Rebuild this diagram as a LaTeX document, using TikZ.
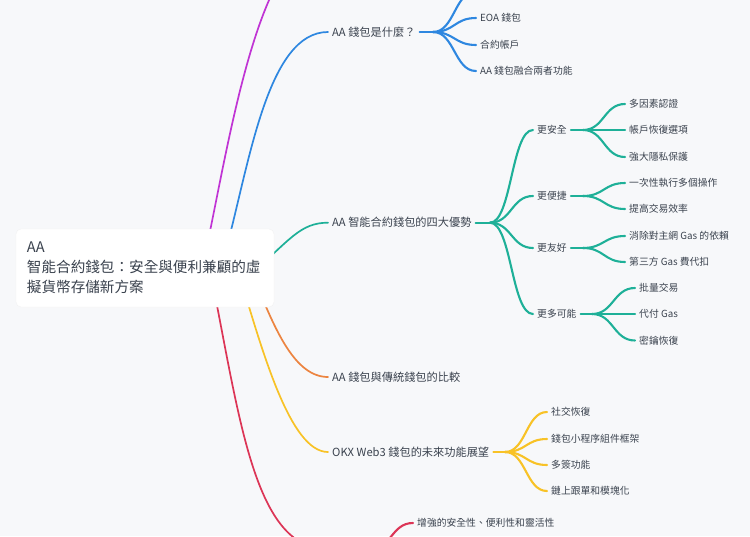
\documentclass[tikz,border=0pt]{standalone}
\usepackage{fontspec}
\setmainfont{Noto Sans CJK TC}
\definecolor{bgcol}{RGB}{247,248,250}
\definecolor{txtcol}{RGB}{58,66,78}
\definecolor{mmpurple}{RGB}{192,52,212}
\definecolor{mmblue}{RGB}{46,135,224}
\definecolor{mmteal}{RGB}{30,176,152}
\definecolor{mmorange}{RGB}{236,132,64}
\definecolor{mmyellow}{RGB}{248,194,38}
\definecolor{mmred}{RGB}{220,53,86}
\begin{document}
\begin{tikzpicture}[x=1pt, y=-1pt,
    line cap=round,
    root/.style={rectangle, rounded corners=5pt, fill=white, draw=black!5,
      text width=236pt, inner xsep=11pt, minimum height=78pt, align=left,
      font=\fontsize{14.6}{20}\selectfont, text=txtcol},
    lone/.style={anchor=west, inner xsep=4pt, inner ysep=2pt,
      font=\fontsize{11.2}{13}\selectfont, text=txtcol},
    ltwo/.style={anchor=west, inner xsep=4pt, inner ysep=2pt,
      font=\fontsize{9.8}{12}\selectfont, text=txtcol},
    trunk/.style={line width=1.7pt},
    twig/.style={line width=2.1pt}]
    % Canvas
    \useasboundingbox (0,0) rectangle (750,536);
    \fill[bgcol] (0,0) rectangle (750,536);
    \clip (0,0) rectangle (750,536);
    % First level topics
    \node[lone] (whatis) at (328,32) {AA 錢包是什麼？};
    \node[lone] (merits) at (328,222.7) {AA 智能合約錢包的四大優勢};
    \node[lone] (compare) at (328,377) {AA 錢包與傳統錢包的比較};
    \node[lone] (future) at (328,452) {OKX Web3 錢包的未來功能展望};
    % Fan points (branches split here)
    \coordinate (fwhat) at (433,32);
    \coordinate (fmerit) at (490,222.7);
    \coordinate (fsafe) at (583,130);
    \coordinate (fquick) at (583,196);
    \coordinate (ffriend) at (583,248);
    \coordinate (fmore) at (592,314);
    \coordinate (ffuture) at (505,452);
    \coordinate (fend) at (370,549);
    % Branch roots hidden behind the central box
    \coordinate (spurple) at (205,255);
    \coordinate (sblue) at (226,250);
    \coordinate (steal) at (250,275);
    \coordinate (sorange) at (255,280);
    \coordinate (syellow) at (238,270);
    \coordinate (sred) at (212,280);
    \coordinate (tpurple) at (327,-60);
    \coordinate (tred) at (327,549);
    % Main branches
    \draw[trunk, mmpurple] (spurple) .. controls (228,150) and (258,-60) .. (tpurple);
    \draw[trunk, mmblue] (sblue) .. controls (250,160) and (268,32) .. (whatis.west);
    \draw[trunk, mmteal] (steal) .. controls (290,240) and (300,222.7) .. (merits.west);
    \draw[trunk, mmorange] (sorange) .. controls (275,330) and (295,377) .. (compare.west);
    \draw[trunk, mmyellow] (syellow) .. controls (262,350) and (290,452) .. (future.west);
    \draw[trunk, mmred] (sred) .. controls (240,420) and (255,549) .. (tred);
    % Central topic
    \node[root] (root) at (145,268) {AA\\智能合約錢包：安全與便利兼顧的虛\\擬貨幣存儲新方案};
    % AA wallet basics
    \node[ltwo] (eoa) at (476,18) {EOA 錢包};
    \node[ltwo] (acct) at (476,45) {合約帳戶};
    \node[ltwo] (fuse) at (476,71) {AA 錢包融合兩者功能};
    \coordinate (hidden) at (476,-8.5);
    \draw[twig, mmblue] (whatis.east) -- (fwhat);
    \foreach \c in {hidden, eoa.west, acct.west, fuse.west}
      \draw[twig, mmblue] (fwhat) .. controls +(21.5,0) and +(-21.5,0) .. (\c);
    % Four advantages
    \node[ltwo] (safe) at (533,130) {更安全};
    \node[ltwo] (quick) at (533,196) {更便捷};
    \node[ltwo] (friend) at (533,248) {更友好};
    \node[ltwo] (more) at (533,314) {更多可能};
    \draw[twig, mmteal] (merits.east) -- (fmerit);
    \foreach \c in {safe, quick, friend, more}
      \draw[twig, mmteal] (fmerit) .. controls +(21.5,0) and +(-21.5,0) .. (\c.west);
    % Safer
    \node[ltwo] (mfa) at (625,104) {多因素認證};
    \node[ltwo] (recov) at (625,130) {帳戶恢復選項};
    \node[ltwo] (priv) at (625,157) {強大隱私保護};
    \draw[twig, mmteal] (safe.east) -- (fsafe);
    \foreach \c in {mfa, recov, priv}
      \draw[twig, mmteal] (fsafe) .. controls +(21,0) and +(-21,0) .. (\c.west);
    % Quicker
    \node[ltwo] (batch) at (625,183) {一次性執行多個操作};
    \node[ltwo] (speed) at (625,209) {提高交易效率};
    \draw[twig, mmteal] (quick.east) -- (fquick);
    \foreach \c in {batch, speed}
      \draw[twig, mmteal] (fquick) .. controls +(21,0) and +(-21,0) .. (\c.west);
    % Friendlier
    \node[ltwo] (nogas) at (625,236) {消除對主網 Gas 的依賴};
    \node[ltwo] (third) at (625,262) {第三方 Gas 費代扣};
    \draw[twig, mmteal] (friend.east) -- (ffriend);
    \foreach \c in {nogas, third}
      \draw[twig, mmteal] (ffriend) .. controls +(21,0) and +(-21,0) .. (\c.west);
    % More possibilities
    \node[ltwo] (bulk) at (635,288) {批量交易};
    \node[ltwo] (paygas) at (635,314) {代付 Gas};
    \node[ltwo] (keyrec) at (635,340.5) {密鑰恢復};
    \draw[twig, mmteal] (more.east) -- (fmore);
    \foreach \c in {bulk, paygas, keyrec}
      \draw[twig, mmteal] (fmore) .. controls +(21.5,0) and +(-21.5,0) .. (\c.west);
    % Future features
    \node[ltwo] (social) at (547,412) {社交恢復};
    \node[ltwo] (miniapp) at (547,439) {錢包小程序組件框架};
    \node[ltwo] (multisig) at (547,465) {多簽功能};
    \node[ltwo] (copytr) at (547,491) {鏈上跟單和模塊化};
    \draw[twig, mmyellow] (future.east) -- (ffuture);
    \foreach \c in {social, miniapp, multisig, copytr}
      \draw[twig, mmyellow] (ffuture) .. controls +(21,0) and +(-21,0) .. (\c.west);
    % Last branch, mostly below the page
    \node[ltwo] (gains) at (413,523) {增強的安全性、便利性和靈活性};
    \draw[twig, mmred] (fend) .. controls +(21.5,0) and +(-21.5,0) .. (gains.west);
\end{tikzpicture}
\end{document}
